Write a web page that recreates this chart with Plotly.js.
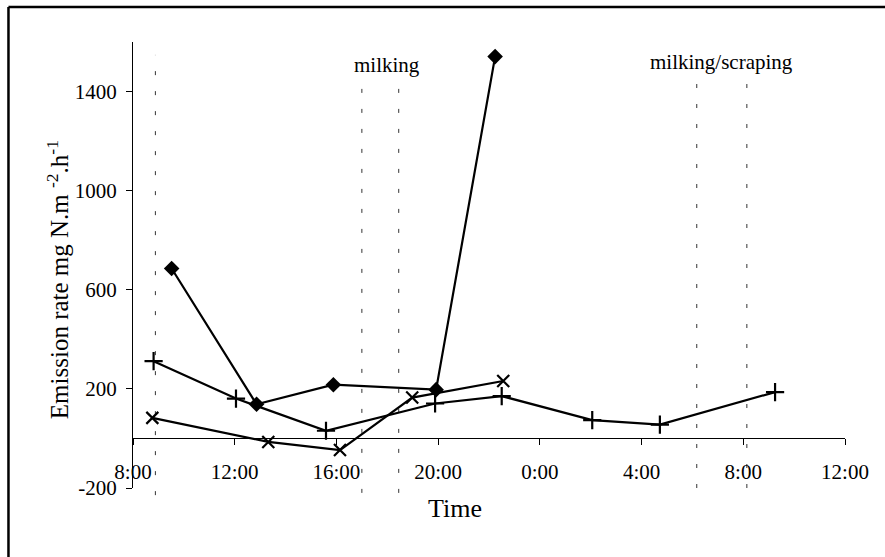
<!DOCTYPE html>
<html>
<head>
<meta charset="utf-8">
<script src="https://cdn.plot.ly/plotly-3.0.1.min.js"></script>
<style>html,body{margin:0;padding:0;background:#fff;}#chart{width:885px;height:557px;}</style>
</head>
<body>
<div id="chart"></div>
<script>
// Time in hours from midnight of day 1 (values > 24 are the next day)
var plusTime   = [8.81, 12.05, 15.59, 19.88, 22.50, 26.06, 28.72, 33.25];
var plusValue  = [312, 161, 31, 141, 171, 74, 56, 187];

var diamondTime  = [9.52, 12.86, 15.88, 19.92, 22.24];
var diamondValue = [686, 138, 217, 197, 1541];

var crossTime  = [8.76, 13.32, 16.14, 18.98, 22.56];
var crossValue = [83, -14, -47, 165, 232];

// Event lines (hours)
var eventLines = [8.88, 17.0, 18.45, 30.17, 32.14];
var eventTop   = [0.971, 0.910, 0.910, 0.924, 0.924];
var eventBottom= [-0.016, -0.011, -0.011, 0.0, 0.0];

var xTickVals = [8, 12, 16, 20, 24, 28, 32, 36];
var xTickText = ['8:00', '12:00', '16:00', '20:00', '0:00', '4:00', '8:00', '12:00'];
var yTickVals = [-200, 200, 600, 1000, 1400];
var yTickText = ['-200', '200', '600', '1000', '1400'];

var font = 'Liberation Serif, Times New Roman, serif';

function series(x, y, symbol, size, lw) {
  return {
    x: x, y: y, type: 'scatter', mode: 'lines+markers',
    line: {color: '#000', width: 2.2},
    marker: {symbol: symbol, size: size, color: '#000', line: {color: '#000', width: lw}},
    cliponaxis: false, showlegend: false, hoverinfo: 'x+y'
  };
}

var data = [
  series(plusTime, plusValue, 'cross-thin', 13, 2.2),
  series(crossTime, crossValue, 'x-thin', 12, 2.2),
  series(diamondTime, diamondValue, 'diamond', 12, 0)
];

var shapes = eventLines.map(function (t, i) {
  return {type: 'line', xref: 'x', yref: 'paper', x0: t, x1: t, y0: eventBottom[i], y1: eventTop[i],
          line: {color: '#333', width: 1, dash: '4px,16px'}, layer: 'below'};
});
// outer frame (left and top edges visible)
shapes.push({type: 'line', xref: 'paper', yref: 'paper', x0: -0.1749, x1: -0.1749, y0: 1.0785, y1: -0.17,
             line: {color: '#000', width: 2.5}});
shapes.push({type: 'line', xref: 'paper', yref: 'paper', x0: -0.1749, x1: 1.07, y0: 1.0785, y1: 1.0785,
             line: {color: '#000', width: 2.5}});

var layout = {
  width: 885, height: 557,
  margin: {l: 133, r: 40, t: 42, b: 69, pad: 0},
  paper_bgcolor: '#fff', plot_bgcolor: '#fff',
  font: {family: font, size: 21, color: '#000'},
  showlegend: false,
  xaxis: {
    range: [8, 36], tickmode: 'array', tickvals: xTickVals, ticktext: xTickText,
    anchor: 'free', position: 0.1111,
    showline: true, linecolor: '#000', linewidth: 1,
    ticks: 'outside', ticklen: 6, tickcolor: '#000', tickwidth: 1,
    showgrid: false, zeroline: false, ticklabelstandoff: 8,
    tickfont: {family: font, size: 21, color: '#000'}
  },
  xaxis2: {
    range: [8, 36], tickmode: 'array', tickvals: xTickVals, overlaying: 'x',
    anchor: 'free', position: 0.1111,
    showline: false, ticks: 'inside', ticklen: 6, tickcolor: '#000', tickwidth: 1,
    showticklabels: false, showgrid: false, zeroline: false
  },
  yaxis: {
    range: [-200, 1600], tickmode: 'array', tickvals: yTickVals, ticktext: yTickText,
    showline: true, linecolor: '#000', linewidth: 1,
    ticks: 'outside', ticklen: 6, tickcolor: '#000', tickwidth: 1,
    showgrid: false, zeroline: false, ticklabelstandoff: 5,
    tickfont: {family: font, size: 21, color: '#000'}
  },
  yaxis2: {
    range: [-200, 1600], tickmode: 'array', tickvals: yTickVals, overlaying: 'y',
    anchor: 'free', position: 0,
    showline: false, ticks: 'inside', ticklen: 6, tickcolor: '#000', tickwidth: 1,
    showticklabels: false, showgrid: false, zeroline: false
  },
  shapes: shapes,
  annotations: [
    {text: 'milking', xref: 'paper', yref: 'paper', x: 0.3567, y: 0.948, showarrow: false,
     xanchor: 'center', yanchor: 'middle', font: {family: font, size: 21, color: '#000'}},
    {text: 'milking/scraping', xref: 'paper', yref: 'paper', x: 0.8268, y: 0.956, showarrow: false,
     xanchor: 'center', yanchor: 'middle', font: {family: font, size: 21, color: '#000'}},
    {text: 'Time', xref: 'paper', yref: 'paper', x: 0.452, y: -0.047, showarrow: false,
     xanchor: 'center', yanchor: 'middle', font: {family: font, size: 26, color: '#000'}},
    {text: 'Emission rate mg N.m <sup>-2</sup>.h<sup>-1</sup>', xref: 'paper', yref: 'paper',
     x: -0.1053, y: 0.466, textangle: -90, showarrow: false,
     xanchor: 'center', yanchor: 'middle', font: {family: font, size: 25, color: '#000'}}
  ]
};

Plotly.newPlot('chart', data, layout, {displayModeBar: false, staticPlot: true});
</script>
</body>
</html>
